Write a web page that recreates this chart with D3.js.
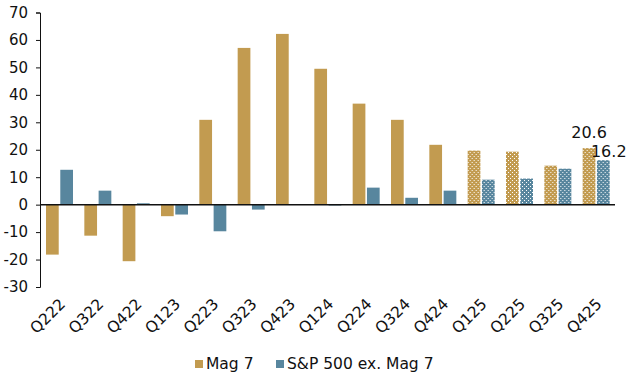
<!DOCTYPE html>
<html>
<head>
<meta charset="utf-8">
<script src="https://cdn.jsdelivr.net/npm/d3@7"></script>
<style>
body { margin: 0; background: #fff; }
text { font-family: Verdana, "DejaVu Sans", sans-serif; fill: #111; }
</style>
</head>
<body>
<div id="my_dataviz"></div>
<script>
var quarters = ["Q222","Q322","Q422","Q123","Q223","Q323","Q423","Q124","Q224","Q324","Q424","Q125","Q225","Q325","Q425"];
var mag7 = [-18.2, -11.3, -20.6, -4.2, 30.9, 57.1, 62.2, 49.5, 36.8, 30.9, 21.8, 19.7, 19.3, 14.2, 20.6];
var rest = [12.7, 5.1, 0.5, -3.6, -9.7, -1.8, 0.1, -0.3, 6.2, 2.5, 5.1, 9.1, 9.5, 13.1, 16.2];
var estimated = ["Q125","Q225","Q325","Q425"];
var yTicks = [70,60,50,40,30,20,10,0,-10,-20,-30];

var gold = "#c29b50", blue = "#58869e";

var svg = d3.select("#my_dataviz")
  .append("svg")
  .attr("width", 628)
  .attr("height", 373);

// dotted fills for the estimate bars
var defs = svg.append("defs");
[["dotGold", gold], ["dotBlue", blue]].forEach(function(p){
  var pat = defs.append("pattern")
    .attr("id", p[0])
    .attr("patternUnits", "userSpaceOnUse")
    .attr("width", 4).attr("height", 4);
  pat.append("rect").attr("width", 4).attr("height", 4).attr("fill", p[1]);
  pat.append("rect").attr("x", 0).attr("y", 0).attr("width", 1).attr("height", 1).attr("fill", "#fff");
  pat.append("rect").attr("x", 2).attr("y", 2).attr("width", 1).attr("height", 1).attr("fill", "#fff");
});

var x = d3.scaleBand().domain(quarters).range([40, 615]);
var y = d3.scaleLinear().domain([-30, 70]).range([287, 12.5]);

// y axis
var yAxis = svg.append("g")
  .attr("transform", "translate(40,0)")
  .call(d3.axisLeft(y).tickValues(yTicks).tickSize(4).tickPadding(8).tickFormat(function(d){ return d < 0 ? "-" + Math.abs(d) : d; }));
yAxis.select(".domain").attr("stroke", "#111");
yAxis.selectAll(".tick line").attr("stroke", "#111");
yAxis.selectAll("text").style("font-size", "15px").attr("fill", "#111");

var inner = d3.scaleBand().domain(["m","r"]).range([6, 33]).paddingInner(0.11);

function fill(q, series){
  var est = estimated.indexOf(q) >= 0;
  if (series == "m") return est ? "url(#dotGold)" : gold;
  return est ? "url(#dotBlue)" : blue;
}

var groups = svg.selectAll(".grp")
  .data(quarters)
  .enter().append("g")
  .attr("class", "grp")
  .attr("transform", function(d){ return "translate(" + x(d) + ",0)"; });

groups.append("rect")
  .attr("x", inner("m"))
  .attr("width", inner.bandwidth())
  .attr("y", function(d,i){ return y(Math.max(0, mag7[i])); })
  .attr("height", function(d,i){ return Math.abs(y(mag7[i]) - y(0)); })
  .attr("fill", function(d){ return fill(d, "m"); });

groups.append("rect")
  .attr("x", inner("r"))
  .attr("width", inner.bandwidth())
  .attr("y", function(d,i){ return y(Math.max(0, rest[i])); })
  .attr("height", function(d,i){ return Math.abs(y(rest[i]) - y(0)); })
  .attr("fill", function(d){ return fill(d, "r"); });

// zero line
svg.append("line")
  .attr("x1", 40).attr("x2", 615)
  .attr("y1", y(0)).attr("y2", y(0))
  .attr("stroke", "#111").attr("stroke-width", 1.5);

// x labels
svg.selectAll(".xl")
  .data(quarters)
  .enter().append("text")
  .attr("class", "xl")
  .attr("text-anchor", "end")
  .style("font-size", "15.5px")
  .attr("transform", function(d){ return "translate(" + (x(d) + x.bandwidth()/2 + 7) + ",305) rotate(-45)"; })
  .text(function(d){ return d; });

// value labels on last quarter
var last = quarters.length - 1;
svg.append("text")
  .attr("x", x(quarters[last]) + inner("m") + inner.bandwidth()/2)
  .attr("y", y(mag7[last]) - 10)
  .attr("text-anchor", "middle")
  .style("font-size", "16px")
  .text(mag7[last].toFixed(1));
svg.append("text")
  .attr("x", x(quarters[last]) + inner("r") - 6)
  .attr("y", y(rest[last]) - 3)
  .style("font-size", "16px")
  .text(rest[last].toFixed(1));

// legend
var legend = [["Mag 7", gold, 195], ["S&P 500 ex. Mag 7", blue, 276]];
legend.forEach(function(l){
  svg.append("rect").attr("x", l[2]).attr("y", 360).attr("width", 8).attr("height", 8).attr("fill", l[1]);
  svg.append("text").attr("x", l[2] + 11).attr("y", 369).style("font-size", "15.5px").text(l[0]);
});
</script>
</body>
</html>
